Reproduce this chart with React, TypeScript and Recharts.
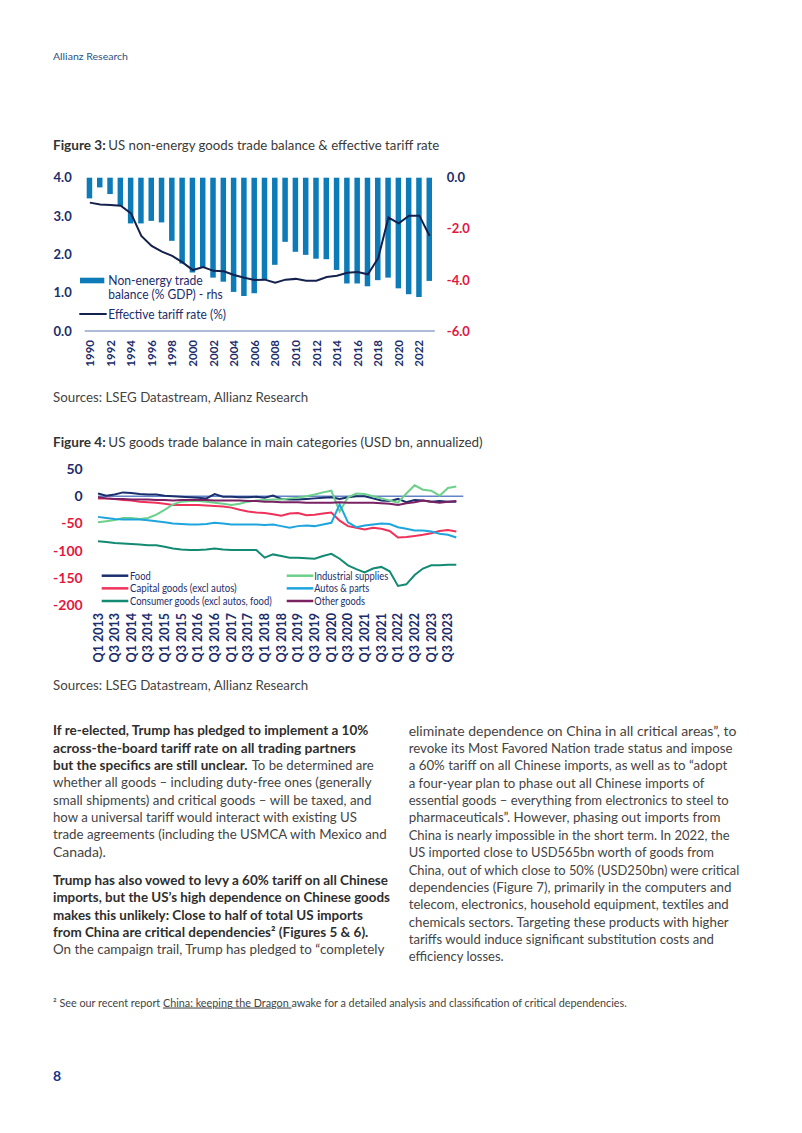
import React from 'react';
import { ComposedChart, LineChart, Bar, Line, XAxis, YAxis, ReferenceLine, Legend } from 'recharts';

// ---------- Figure 3 data ----------
const years = ['1990','1991','1992','1993','1994','1995','1996','1997','1998','1999','2000','2001','2002','2003','2004','2005','2006','2007','2008','2009','2010','2011','2012','2013','2014','2015','2016','2017','2018','2019','2020','2021','2022','2023'];
const tradeBalance = [-0.81,-0.38,-0.64,-1.10,-1.79,-1.79,-1.69,-1.75,-2.47,-3.36,-3.71,-3.52,-3.91,-4.07,-4.47,-4.63,-4.52,-4.00,-3.41,-2.51,-2.90,-3.02,-3.17,-3.19,-3.61,-4.14,-4.14,-4.25,-4.01,-3.91,-4.33,-4.56,-4.67,-4.04];
const tariffRate = [3.35,3.30,3.29,3.27,3.07,2.48,2.22,2.07,1.96,1.79,1.59,1.67,1.57,1.56,1.46,1.39,1.33,1.34,1.26,1.34,1.36,1.31,1.31,1.41,1.44,1.52,1.54,1.48,1.90,2.96,2.81,3.01,3.01,2.48];
const leftTicks3 = [0, 1, 2, 3, 4];
const rightTicks3 = [-6, -4, -2, 0];

// ---------- Figure 4 data ----------
const quarters = ['Q1 2013','Q2 2013','Q3 2013','Q4 2013','Q1 2014','Q2 2014','Q3 2014','Q4 2014','Q1 2015','Q2 2015','Q3 2015','Q4 2015','Q1 2016','Q2 2016','Q3 2016','Q4 2016','Q1 2017','Q2 2017','Q3 2017','Q4 2017','Q1 2018','Q2 2018','Q3 2018','Q4 2018','Q1 2019','Q2 2019','Q3 2019','Q4 2019','Q1 2020','Q2 2020','Q3 2020','Q4 2020','Q1 2021','Q2 2021','Q3 2021','Q4 2021','Q1 2022','Q2 2022','Q3 2022','Q4 2022','Q1 2023','Q2 2023','Q3 2023','Q4 2023'];
const food = [5,1,3,7,6,4,3,3,1,0,-1,-2,-3,-4,4,-1,-1,-2,-2,-1,-3,1,-5,-6,-6,-5,-4,-3,-2,-5,-2,0,0,-4,-8,-9,-5,-11,-7,-8,-10,-9,-10,-10];
const capitalGoods = [-4,-4,-5,-7,-8,-10,-11,-12,-14,-16,-16,-16,-16,-17,-18,-19,-21,-25,-28,-30,-31,-33,-36,-32,-31,-35,-34,-32,-30,-45,-55,-58,-61,-58,-60,-64,-76,-75,-73,-71,-68,-64,-62,-65];
const consumerGoods = [-83,-84,-86,-87,-88,-89,-90,-90,-93,-96,-98,-99,-99,-98,-96,-98,-99,-99,-99,-99,-113,-107,-110,-113,-113,-114,-115,-110,-106,-115,-127,-134,-140,-133,-130,-138,-165,-162,-145,-133,-127,-127,-126,-126];
const industrialSupplies = [-48,-46,-44,-40,-40,-42,-40,-34,-25,-15,-10,-9,-9,-10,-12,-14,-16,-14,-10,-8,-7,-6,-6,-4,-3,0,3,7,10,-28,-2,5,4,0,-4,-8,-12,5,20,12,10,1,15,18];
const autosParts = [-38,-40,-42,-43,-43,-43,-44,-46,-48,-50,-51,-52,-52,-51,-49,-50,-52,-52,-52,-52,-53,-52,-55,-58,-55,-54,-55,-52,-49,-15,-48,-57,-54,-52,-50,-51,-57,-60,-63,-63,-65,-69,-71,-76];
const otherGoods = [-2,-4,-5,-5,-6,-6,-6,-7,-7,-8,-7,-7,-7,-7,-8,-8,-8,-8,-9,-9,-10,-10,-11,-11,-11,-12,-12,-12,-12,-11,-12,-12,-12,-12,-13,-14,-16,-13,-11,-8,-10,-12,-10,-9];
const yTicks4 = [-200, -150, -100, -50, 0, 50];

const seriesNames4 = ['Food','Capital goods (excl autos)','Consumer goods (excl autos, food)','Industrial supplies','Autos & parts','Other goods'];

// ---------- styles ----------
const NAVY = '#1b2d6b';
const RED = '#e3173e';
const BAR_BLUE = '#0c7bb8';
const LINE_NAVY = '#14214d';
const AXIS_BLUE = '#5a78b0';
const TEXT_GRAY = '#444444';
const BOLD_GRAY = '#2e2e2e';
const FONT = 'Lato, "Open Sans", sans-serif';

const colors4 = {
  food: '#1a2f6d',
  capital: '#f0315a',
  consumer: '#138b73',
  industrial: '#6dd08a',
  autos: '#1ea5de',
  other: '#7a2164',
};

const fig3Data = years.map((y, i) => ({ year: y, balance: tradeBalance[i], tariff: tariffRate[i] }));
const fig4Data = quarters.map((q, i) => ({
  q,
  food: food[i],
  capital: capitalGoods[i],
  consumer: consumerGoods[i],
  industrial: industrialSupplies[i],
  autos: autosParts[i],
  other: otherGoods[i],
}));

// ---------- ticks ----------
function Fig3LeftTick(props: any) {
  const { x, y, payload } = props;
  return (
    <text x={x} y={y} dy="0.36em" textAnchor="end" fill={NAVY} fontFamily={FONT} fontWeight={700} fontSize={13}>
      {Number(payload.value).toFixed(1)}
    </text>
  );
}
function Fig3RightTick(props: any) {
  const { x, y, payload } = props;
  const v = Number(payload.value);
  return (
    <text x={x} y={y} dy="0.36em" textAnchor="start" fill={v === 0 ? NAVY : RED} fontFamily={FONT} fontWeight={700} fontSize={13}>
      {v.toFixed(1)}
    </text>
  );
}
function RotTick(props: any) {
  const { x, y, payload, fontSize } = props;
  return (
    <text x={x} y={y} transform={`rotate(-90 ${x} ${y})`} dy="0.36em" textAnchor="end" fill={NAVY} fontFamily={FONT} fontWeight={700} fontSize={fontSize}>
      {payload.value}
    </text>
  );
}
function Fig4YTick(props: any) {
  const { x, y, payload } = props;
  const v = Number(payload.value);
  return (
    <text x={x} y={y} dy="0.36em" textAnchor="end" fill={v >= 0 ? NAVY : RED} fontFamily={FONT} fontWeight={700} fontSize={14}>
      {v}
    </text>
  );
}

// ---------- legends ----------
const legendText = { fontFamily: FONT, fill: NAVY } as const;

const renderLegend3 = () => (
  <svg width={160} height={54} style={{ display: 'block', overflow: 'visible' }}>
    <rect x={2} y={7.7} width={24.3} height={5.6} fill={BAR_BLUE} />
    <text x={30.3} y={14.5} fontSize={12.5} textLength={94.4} lengthAdjust="spacingAndGlyphs" {...legendText}>Non-energy trade</text>
    <text x={30.3} y={28.5} fontSize={12.5} textLength={114.4} lengthAdjust="spacingAndGlyphs" {...legendText}>balance (% GDP) - rhs</text>
    <line x1={1.3} x2={28.7} y1={44} y2={44} stroke={LINE_NAVY} strokeWidth={2} />
    <text x={30.3} y={48.5} fontSize={12.5} textLength={117.7} lengthAdjust="spacingAndGlyphs" {...legendText}>Effective tariff rate (%)</text>
  </svg>
);

const legend4Items = [
  { name: seriesNames4[0], color: colors4.food, col: 0, row: 0, w: 20.7 },
  { name: seriesNames4[1], color: colors4.capital, col: 0, row: 1, w: 106.7 },
  { name: seriesNames4[2], color: colors4.consumer, col: 0, row: 2, w: 141.7 },
  { name: seriesNames4[3], color: colors4.industrial, col: 1, row: 0, w: 74 },
  { name: seriesNames4[4], color: colors4.autos, col: 1, row: 1, w: 55 },
  { name: seriesNames4[5], color: colors4.other, col: 1, row: 2, w: 50.7 },
];

const renderLegend4 = () => (
  <svg width={300} height={46} style={{ display: 'block', overflow: 'visible' }}>
    {legend4Items.map((it) => {
      const lx = it.col === 0 ? 3.7 : 188.7;
      const tx = it.col === 0 ? 32 : 216.3;
      const cy = 10.7 + it.row * 12.65;
      return (
        <g key={it.name}>
          <line x1={lx} x2={lx + 26.6} y1={cy} y2={cy} stroke={it.color} strokeWidth={2.5} />
          <text x={tx} y={cy + 3.9} fontSize={11} textLength={it.w} lengthAdjust="spacingAndGlyphs" {...legendText}>{it.name}</text>
        </g>
      );
    })}
  </svg>
);

// ---------- page text ----------
const LH = 17.35;
const leftPara1: [string, boolean, number][] = [
  ['If re-elected, Trump has pledged to implement a 10%', true, 368.3],
  ['across-the-board tariff rate on all trading partners', true, 355.9],
  ['', true, 0],
  ['whether all goods \u2013 including duty-free ones (generally', false, 371.5],
  ['small shipments) and critical goods \u2013 will be taxed, and', false, 371.5],
  ['how a universal tariff would interact with existing US', false, 356.8],
  ['trade agreements (including the USMCA with Mexico and', false, 386.6],
  ['Canada).', false, 105.7],
];
const leftPara2: [string, boolean, number][] = [
  ['Trump has also vowed to levy a 60% tariff on all Chinese', true, 388],
  ['imports, but the US\u2019s high dependence on Chinese goods', true, 389.9],
  ['makes this unlikely: Close to half of total US imports', true, 362.8],
  ['from China are critical dependencies\u00b2 (Figures 5 & 6).', true, 368.3],
  ['On the campaign trail, Trump has pledged to \u201ccompletely', false, 384.4],
];
const rightCol: [string, number][] = [
  ['eliminate dependence on China in all critical areas\u201d, to', 736.5],
  ['revoke its Most Favored Nation trade status and impose', 732.4],
  ['a 60% tariff on all Chinese imports, as well as to \u201cadopt', 727.3],
  ['a four-year plan to phase out all Chinese imports of', 704.4],
  ['essential goods \u2013 everything from electronics to steel to', 728.7],
  ['pharmaceuticals\u201d. However, phasing out imports from', 720.4],
  ['China is nearly impossible in the short term. In 2022, the', 729.6],
  ['US imported close to USD565bn worth of goods from', 714],
  ['China, out of which close to 50% (USD250bn) were critical', 739.3],
  ['dependencies (Figure 7), primarily in the computers and', 731.4],
  ['telecom, electronics, household equipment, textiles and', 728.7],
  ['chemicals sectors. Targeting these products with higher', 728.7],
  ['tariffs would induce significant substitution costs and', 714],
  ['efficiency losses.', 503.7],
];

function BodyLine({ x, end, y, text, bold }: { x: number; end: number; y: number; text: string; bold: boolean }) {
  return (
    <text
      x={x}
      y={y}
      fontFamily={FONT}
      fontSize={14}
      fontWeight={bold ? 700 : 400}
      fill={bold ? BOLD_GRAY : TEXT_GRAY}
      textLength={end - x}
      lengthAdjust="spacingAndGlyphs"
    >
      {text}
    </text>
  );
}

function PageText() {
  const base1 = 730.3 + 5;
  const base2 = 880 + 5;
  const baseR = 730.7 + 5;
  return (
    <svg width={802} height={1133} style={{ position: 'absolute', left: 0, top: 0 }}>
      <text x={53} y={60} fontFamily={FONT} fontSize={10} fill="#2e5184" textLength={75} lengthAdjust="spacingAndGlyphs">Allianz Research</text>

      <text x={53} y={150.2} fontFamily={FONT} fontSize={13} fontWeight={700} fill="#333" textLength={52.7} lengthAdjust="spacingAndGlyphs">Figure 3:</text>
      <text x={108.3} y={150.2} fontFamily={FONT} fontSize={13} fill="#3a3a3a" textLength={331} lengthAdjust="spacingAndGlyphs">US non-energy goods trade balance &amp; effective tariff rate</text>
      <text x={53} y={401.5} fontFamily={FONT} fontSize={13} fill={TEXT_GRAY} textLength={255.3} lengthAdjust="spacingAndGlyphs">Sources: LSEG Datastream, Allianz Research</text>

      <text x={53} y={447.2} fontFamily={FONT} fontSize={13} fontWeight={700} fill="#333" textLength={52.7} lengthAdjust="spacingAndGlyphs">Figure 4:</text>
      <text x={108.3} y={447.2} fontFamily={FONT} fontSize={13} fill="#3a3a3a" textLength={374.4} lengthAdjust="spacingAndGlyphs">US goods trade balance in main categories (USD bn, annualized)</text>
      <text x={53} y={689.5} fontFamily={FONT} fontSize={13} fill={TEXT_GRAY} textLength={255.3} lengthAdjust="spacingAndGlyphs">Sources: LSEG Datastream, Allianz Research</text>

      {leftPara1.map(([t, b, e], k) =>
        k === 2 ? (
          <g key={k}>
            <BodyLine x={53} end={247.5} y={base1 + k * LH} text="but the specifics are still unclear." bold={true} />
            <BodyLine x={251.7} end={373.8} y={base1 + k * LH} text="To be determined are" bold={false} />
          </g>
        ) : (
          <BodyLine key={k} x={53} end={e} y={base1 + k * LH} text={t} bold={b} />
        )
      )}
      {leftPara2.map(([t, b, e], k) => (
        <BodyLine key={'p2' + k} x={53} end={e} y={base2 + k * LH} text={t} bold={b} />
      ))}
      {rightCol.map(([t, e], k) => (
        <BodyLine key={'r' + k} x={408.7} end={e} y={baseR + k * LH} text={t} bold={false} />
      ))}

      <text x={53} y={1006.5} fontFamily={FONT} fontSize={10.5} fill={TEXT_GRAY} textLength={573.8} lengthAdjust="spacingAndGlyphs">
        <tspan>{'\u00b2 See our recent report '}</tspan>
        <tspan style={{ textDecoration: 'underline' }}>{'China: keeping the Dragon '}</tspan>
        <tspan>awake for a detailed analysis and classification of critical dependencies.</tspan>
      </text>

      <text x={53} y={1081} fontFamily={FONT} fontSize={14} fontWeight={700} fill="#12358a">8</text>
    </svg>
  );
}

function Figure3() {
  return (
    <ComposedChart
      width={480}
      height={230}
      data={fig3Data}
      margin={{ top: 17.7, right: 5.2, bottom: 19, left: 44.7 }}
    >
      <XAxis
        dataKey="year"
        interval={1}
        height={40}
        tickLine={false}
        tickSize={6}
        tickMargin={3}
        axisLine={{ stroke: AXIS_BLUE, strokeWidth: 1.2 }}
        tick={(p: any) => <RotTick {...p} fontSize={11.5} />}
      />
      <YAxis
        yAxisId="left"
        orientation="left"
        domain={[0, 4]}
        ticks={leftTicks3}
        width={40}
        axisLine={false}
        tickLine={false}
        tickSize={6}
        tickMargin={7}
        tick={<Fig3LeftTick />}
      />
      <YAxis
        yAxisId="right"
        orientation="right"
        domain={[-6, 0]}
        ticks={rightTicks3}
        width={40}
        axisLine={false}
        tickLine={false}
        tickSize={6}
        tickMargin={6}
        tick={<Fig3RightTick />}
      />
      <Bar yAxisId="right" dataKey="balance" fill={BAR_BLUE} barSize={5.5} isAnimationActive={false} />
      <Line yAxisId="left" dataKey="tariff" type="linear" stroke={LINE_NAVY} strokeWidth={2} dot={false} isAnimationActive={false} />
      <Legend
        layout="vertical"
        align="center"
        verticalAlign="middle"
        content={renderLegend3}
        wrapperStyle={{ left: 78, top: 110, width: 160, height: 54 }}
      />
    </ComposedChart>
  );
}

function Figure4() {
  return (
    <LineChart
      width={490}
      height={225}
      data={fig4Data}
      margin={{ top: 14, right: 26.7, bottom: 15, left: 48 }}
    >
      <XAxis
        dataKey="q"
        interval={1}
        height={60}
        padding={{ left: 0, right: 7 }}
        axisLine={false}
        tickLine={false}
        tickSize={6}
        tickMargin={2}
        tick={(p: any) => <RotTick {...p} fontSize={12.5} />}
      />
      <YAxis
        domain={[-200, 50]}
        ticks={yTicks4}
        width={50}
        axisLine={false}
        tickLine={false}
        tickSize={6}
        tickMargin={9.3}
        tick={<Fig4YTick />}
      />
      <ReferenceLine y={0} stroke="#6384c6" strokeWidth={1.5} />
      <Line dataKey="food" name={seriesNames4[0]} type="linear" stroke={colors4.food} strokeWidth={2} dot={false} isAnimationActive={false} />
      <Line dataKey="capital" name={seriesNames4[1]} type="linear" stroke={colors4.capital} strokeWidth={2} dot={false} isAnimationActive={false} />
      <Line dataKey="consumer" name={seriesNames4[2]} type="linear" stroke={colors4.consumer} strokeWidth={2} dot={false} isAnimationActive={false} />
      <Line dataKey="industrial" name={seriesNames4[3]} type="linear" stroke={colors4.industrial} strokeWidth={2} dot={false} isAnimationActive={false} />
      <Line dataKey="autos" name={seriesNames4[4]} type="linear" stroke={colors4.autos} strokeWidth={2} dot={false} isAnimationActive={false} />
      <Line dataKey="other" name={seriesNames4[5]} type="linear" stroke={colors4.other} strokeWidth={2} dot={false} isAnimationActive={false} />
      <Legend
        layout="vertical"
        align="center"
        verticalAlign="middle"
        content={renderLegend4}
        wrapperStyle={{ left: 98, top: 110, width: 300, height: 46 }}
      />
    </LineChart>
  );
}

export default function App() {
  return (
    <div style={{ position: 'absolute', left: 0, top: 0, width: 802, height: 1133, background: '#ffffff', overflow: 'hidden' }}>
      <PageText />
      <div style={{ position: 'absolute', left: 0, top: 160 }}>
        <Figure3 />
      </div>
      <div style={{ position: 'absolute', left: 0, top: 455 }}>
        <Figure4 />
      </div>
    </div>
  );
}
